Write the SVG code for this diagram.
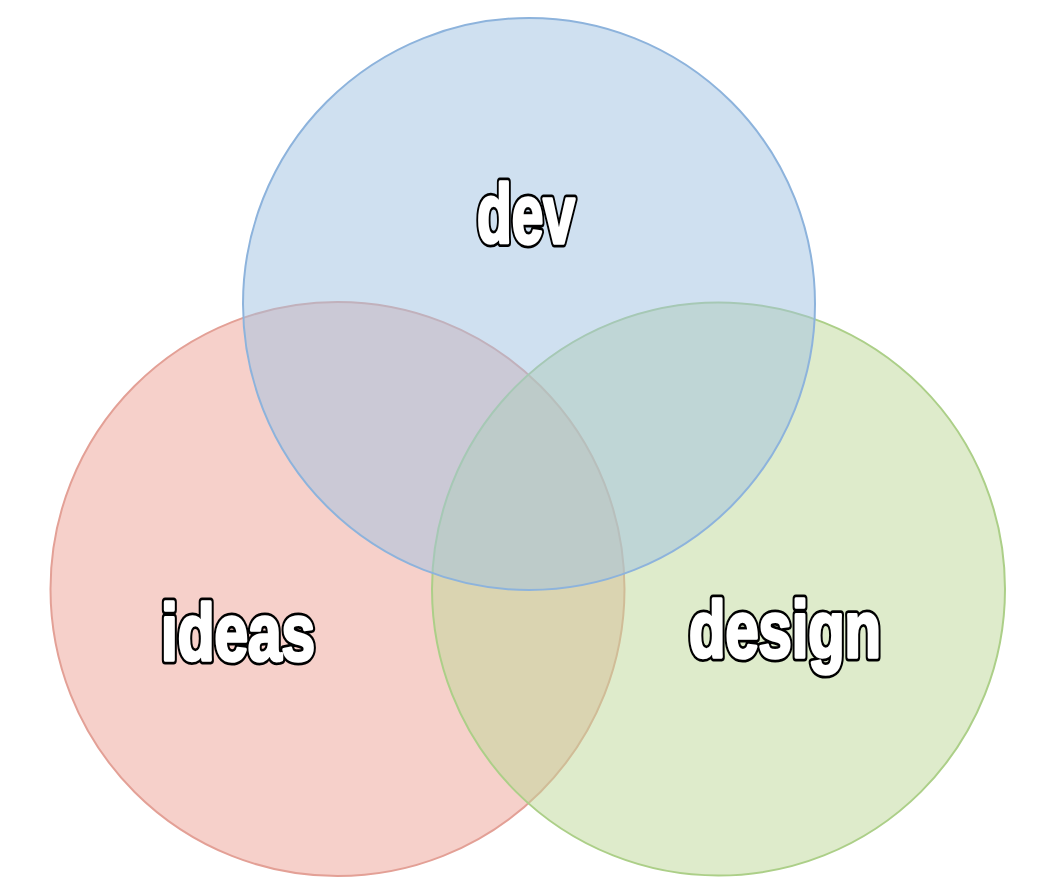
<svg xmlns="http://www.w3.org/2000/svg" width="1038" height="890" viewBox="0 0 1038 890">
<style>
.c{fill-opacity:0.5;stroke-width:2}
.lbl{font-family:"Liberation Sans",Arial,sans-serif;font-weight:bold;text-anchor:middle;stroke-linejoin:round}
.o{fill:#000;stroke:#000;stroke-width:9}
.f{fill:#fff;stroke:#fff;stroke-width:3.5}
</style>
<rect width="1038" height="890" fill="#fff"/>
<g id="ideas">
<circle class="c" cx="337.5" cy="589" r="287" style="fill:#eda195;stroke:#e3a096"/>
<text class="lbl o" x="238" y="660" font-size="80" textLength="154" lengthAdjust="spacingAndGlyphs">ideas</text>
<text class="lbl f" x="238" y="660" font-size="80" textLength="154" lengthAdjust="spacingAndGlyphs">ideas</text>
</g>
<g id="design">
<circle class="c" cx="718.5" cy="589" r="286.5" style="fill:#bdd797;stroke:#accf88"/>
<text class="lbl o" x="785" y="657" font-size="80" textLength="192" lengthAdjust="spacingAndGlyphs">design</text>
<text class="lbl f" x="785" y="657" font-size="80" textLength="192" lengthAdjust="spacingAndGlyphs">design</text>
</g>
<g id="dev">
<circle class="c" cx="529" cy="304" r="286" style="fill:#9fc1e1;stroke:#8db3dc"/>
<text class="lbl o" x="526" y="243" font-size="84" textLength="98" lengthAdjust="spacingAndGlyphs">dev</text>
<text class="lbl f" x="526" y="243" font-size="84" textLength="98" lengthAdjust="spacingAndGlyphs">dev</text>
</g>
</svg>
